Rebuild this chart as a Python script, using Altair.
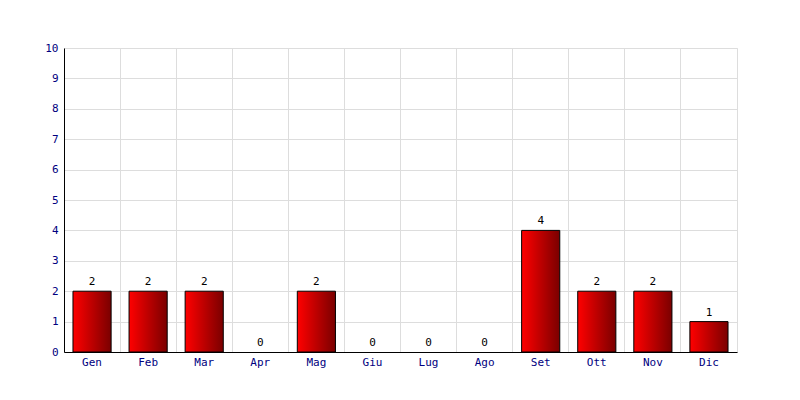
import altair as alt
import pandas as pd

months = ["Gen", "Feb", "Mar", "Apr", "Mag", "Giu", "Lug", "Ago", "Set", "Ott", "Nov", "Dic"]
values = [2, 2, 2, 0, 2, 0, 0, 0, 4, 2, 2, 1]
y_ticks = [0, 1, 2, 3, 4, 5, 6, 7, 8, 9, 10]

df = pd.DataFrame({"month": months, "value": values})

font = "DejaVu Sans Mono"

x = alt.X("month:N", sort=months, title=None,
          scale=alt.Scale(paddingInner=0, paddingOuter=0),
          axis=alt.Axis(labelAngle=0, ticks=False, grid=True, bandPosition=0,
                        gridColor="#dddddd", domainColor="black", labelColor="#000080",
                        labelFont=font, labelFontSize=11, labelPadding=4))
y = alt.Y("value:Q", title=None,
          scale=alt.Scale(domain=[0, 10], nice=False),
          axis=alt.Axis(values=y_ticks, tickCount=20, format="d", ticks=False, grid=True,
                        gridColor="#dddddd", domainColor="black", labelColor="#000080",
                        labelFont=font, labelFontSize=11, labelPadding=6, labelOverlap=False))

grad = alt.Gradient(gradient="linear", x1=0, x2=1, y1=0, y2=0,
                    stops=[alt.GradientStop(color="#ff0000", offset=0),
                           alt.GradientStop(color="#7a0000", offset=1)])

bars = alt.Chart(df).transform_filter(alt.datum.value > 0).mark_bar(
    color=grad, stroke="black", strokeWidth=1, width=alt.RelativeBandSize(0.68)).encode(x=x, y=y)
labels = alt.Chart(df).mark_text(font=font, fontSize=11, color="black", baseline="bottom", dy=-4).encode(
    x=x, y=y, text="value:Q")

chart = (bars + labels).properties(width=673, height=304,
                                   padding={"left": 56, "top": 40, "right": 10, "bottom": 40},
                                   autosize=alt.AutoSizeParams(type="none")).configure_view(stroke="#dddddd")

chart.save("out.html", embed_options={"renderer": "svg", "actions": False})
